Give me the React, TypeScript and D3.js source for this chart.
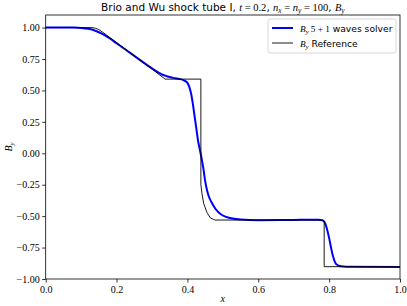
import { useEffect, useRef } from "react";
import * as d3 from "d3";

// reference (exact) solution
const refX = [0, 0.13, 0.14, 0.15, 0.16, 0.172, 0.2, 0.25, 0.3, 0.337, 0.438, 0.438, 0.441, 0.446, 0.455, 0.465, 0.478, 0.6, 0.7, 0.775, 0.782, 0.786, 0.786, 1.0];
const refY = [1.0, 1.0, 0.995, 0.984, 0.965, 0.94, 0.881, 0.775, 0.67, 0.59, 0.59, -0.25, -0.32, -0.4, -0.47, -0.515, -0.531, -0.531, -0.531, -0.531, -0.533, -0.54, -0.902, -0.902];

// 5+1 waves solver
const solX = [0, 0.08, 0.1, 0.12, 0.14, 0.16, 0.18, 0.2, 0.25, 0.3, 0.32, 0.33, 0.34, 0.35, 0.36, 0.37, 0.38, 0.39, 0.4, 0.405, 0.41, 0.415, 0.42, 0.425, 0.43, 0.435, 0.44, 0.445, 0.45, 0.455, 0.46, 0.47, 0.48, 0.49, 0.5, 0.52, 0.55, 0.6, 0.7, 0.77, 0.78, 0.785, 0.79, 0.795, 0.8, 0.805, 0.81, 0.815, 0.82, 0.83, 0.85, 1.0];
const solY = [1.0, 1.0, 0.997, 0.99, 0.975, 0.95, 0.915, 0.875, 0.775, 0.675, 0.64, 0.625, 0.615, 0.607, 0.6, 0.595, 0.59, 0.58, 0.56, 0.53, 0.48, 0.4, 0.3, 0.2, 0.1, 0.03, -0.04, -0.12, -0.22, -0.29, -0.34, -0.4, -0.445, -0.475, -0.495, -0.515, -0.527, -0.532, -0.53, -0.529, -0.532, -0.54, -0.565, -0.615, -0.675, -0.745, -0.81, -0.855, -0.882, -0.897, -0.903, -0.905];

const xTicks = [0, 0.2, 0.4, 0.6, 0.8, 1.0];
const yTicks = [-1, -0.75, -0.5, -0.25, 0, 0.25, 0.5, 0.75, 1.0];

const SANS = "DejaVu Sans";
const SERIF = "Liberation Serif";

type Seg = { t: string; f: "sans" | "serif" | "it"; sub?: boolean };

function addRich(text: d3.Selection<SVGTextElement, unknown, null, undefined>, segs: Seg[], size: number) {
  const off = size * 0.22;
  let inSub = false;
  segs.forEach(s => {
    const ts = text.append("tspan")
      .attr("font-family", s.f === "sans" ? SANS : SERIF)
      .attr("font-style", s.f === "it" ? "italic" : "normal")
      .attr("font-size", s.sub ? size * 0.7 : size)
      .text(s.t);
    if (s.sub && !inSub) ts.attr("dy", off);
    if (!s.sub && inSub) ts.attr("dy", -off);
    inSub = !!s.sub;
  });
}

export default function App() {
  const svgRef = useRef<SVGSVGElement | null>(null);

  useEffect(() => {
    const W = 407, H = 306;
    const margin = { top: 15, right: 7, bottom: 27, left: 45.7 };
    const width = W - margin.left - margin.right;
    const height = H - margin.top - margin.bottom;

    const svg = d3.select(svgRef.current).attr("width", W).attr("height", H);
    svg.selectAll("*").remove();

    const g = svg.append("g").attr("transform", `translate(${margin.left},${margin.top})`);

    const x = d3.scaleLinear().domain([0, 1]).range([0, width]);
    const y = d3.scaleLinear().domain([-1, 1.1]).range([height, 0]);

    const line = d3.line<[number, number]>()
      .x(d => x(d[0]))
      .y(d => y(d[1]))
      .curve(d3.curveMonotoneX);
    const lineLin = d3.line<[number, number]>()
      .x(d => x(d[0]))
      .y(d => y(d[1]));

    const sol = solX.map((v, i) => [v, solY[i]] as [number, number]);
    const ref = refX.map((v, i) => [v, refY[i]] as [number, number]);

    g.append("path")
      .attr("d", line(sol))
      .attr("fill", "none")
      .attr("stroke", "#0000ff")
      .attr("stroke-width", 2)
      .attr("stroke-linejoin", "round");

    g.append("path")
      .attr("d", lineLin(ref))
      .attr("fill", "none")
      .attr("stroke", "#000")
      .attr("stroke-width", 0.9);

    // axes
    const xAxis = g.append("g")
      .attr("transform", `translate(0,${height})`)
      .call(d3.axisBottom(x).tickValues(xTicks).tickFormat(d3.format(".1f")).tickSize(3.5).tickPadding(3));
    const yAxis = g.append("g")
      .call(d3.axisLeft(y).tickValues(yTicks).tickFormat(d3.format(".2f")).tickSize(3.5).tickPadding(2.5));

    [xAxis, yAxis].forEach(a => {
      a.select(".domain").remove();
      a.selectAll("line").attr("stroke", "#000").attr("stroke-width", 0.8);
      a.selectAll("text").attr("font-family", SERIF).attr("font-size", 10).attr("fill", "#000");
    });

    g.append("rect")
      .attr("width", width).attr("height", height)
      .attr("fill", "none").attr("stroke", "#000").attr("stroke-width", 0.8);

    // labels
    const xl = svg.append("text")
      .attr("x", margin.left + width / 2).attr("y", 302)
      .attr("text-anchor", "middle");
    addRich(xl, [{ t: "x", f: "it" }], 10);

    const yl = svg.append("text")
      .attr("transform", `translate(12,${margin.top + height / 2}) rotate(-90)`)
      .attr("text-anchor", "middle");
    addRich(yl, [{ t: "B", f: "it" }, { t: "y", f: "it", sub: true }], 10);

    const title = svg.append("text")
      .attr("x", margin.left + width / 2).attr("y", 11)
      .attr("text-anchor", "middle");
    addRich(title, [
      { t: "Brio and Wu shock tube I, ", f: "sans" },
      { t: "t", f: "it" }, { t: " = 0.2", f: "serif" },
      { t: ", ", f: "sans" },
      { t: "n", f: "it" }, { t: "x", f: "it", sub: true },
      { t: " = ", f: "serif" },
      { t: "n", f: "it" }, { t: "y", f: "it", sub: true },
      { t: " = 100", f: "serif" },
      { t: ", ", f: "sans" },
      { t: "B", f: "it" }, { t: "y", f: "it", sub: true },
    ], 10.5);

    // legend
    const lg = svg.append("g").attr("transform", "translate(268,19)");
    lg.append("rect")
      .attr("width", 128).attr("height", 34).attr("rx", 2)
      .attr("fill", "#fff").attr("fill-opacity", 0.8)
      .attr("stroke", "#cccccc").attr("stroke-width", 0.8);
    lg.append("line").attr("x1", 4).attr("x2", 25).attr("y1", 9).attr("y2", 9)
      .attr("stroke", "#0000ff").attr("stroke-width", 2);
    lg.append("line").attr("x1", 4).attr("x2", 25).attr("y1", 24).attr("y2", 24)
      .attr("stroke", "#000").attr("stroke-width", 0.9);
    const t1 = lg.append("text").attr("x", 32).attr("y", 12.5);
    addRich(t1, [{ t: "B", f: "it" }, { t: "y", f: "it", sub: true }, { t: " 5 + 1", f: "serif" }, { t: " waves solver", f: "sans" }], 9.2);
    const t2 = lg.append("text").attr("x", 32).attr("y", 27.5);
    addRich(t2, [{ t: "B", f: "it" }, { t: "y", f: "it", sub: true }, { t: " Reference", f: "sans" }], 9.2);
  }, []);

  return (
    <div style={{ position: "fixed", left: 0, top: 0, background: "#fff" }}>
      <svg ref={svgRef}></svg>
    </div>
  );
}
